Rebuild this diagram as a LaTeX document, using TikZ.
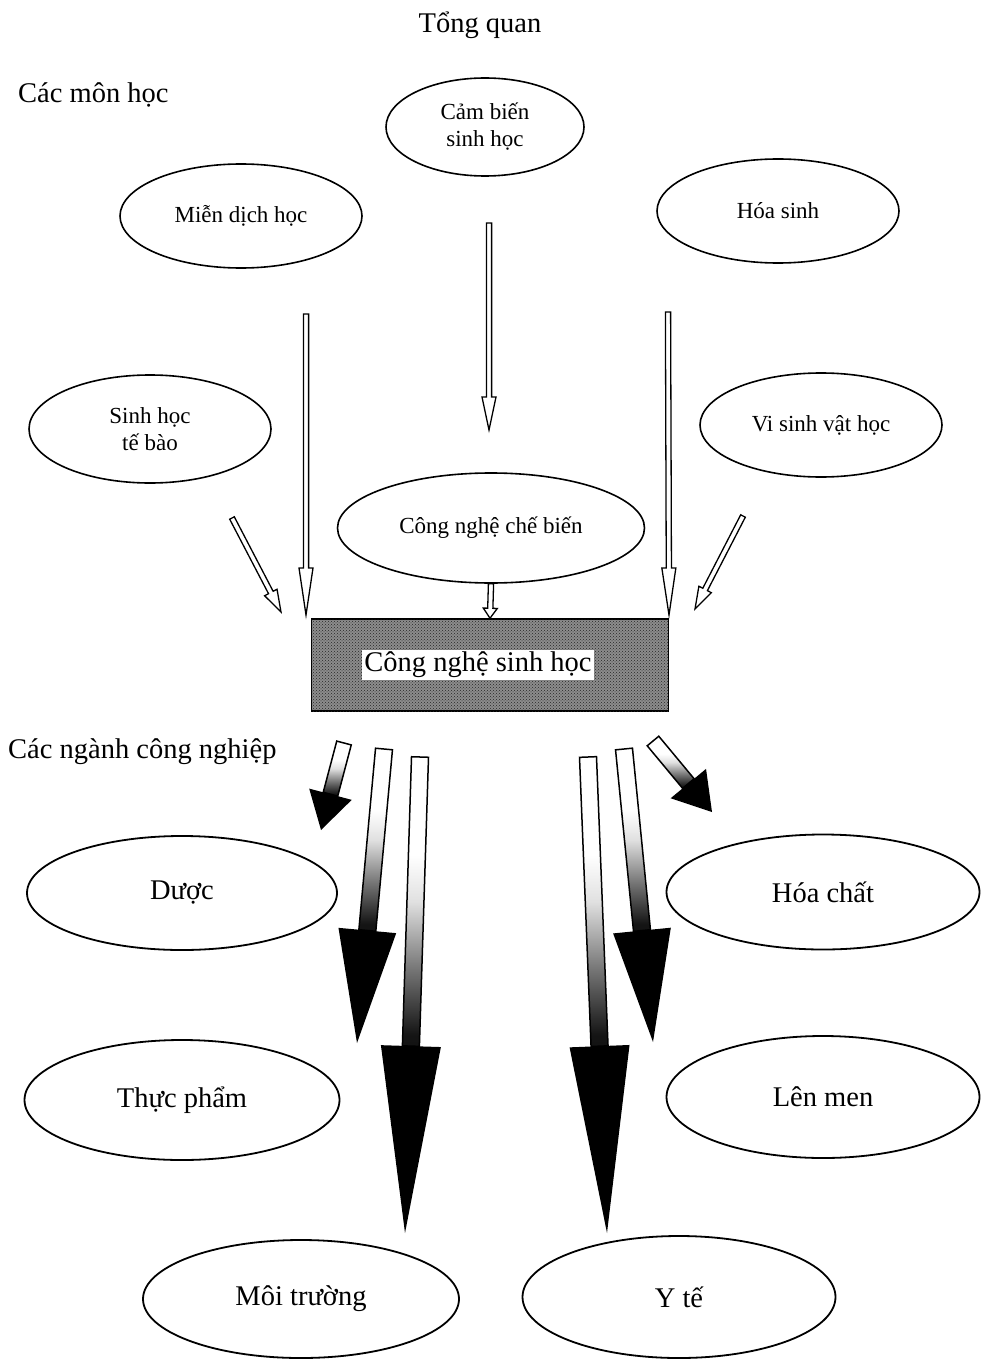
\documentclass[tikz,border=0pt]{standalone}
\usepackage{fontspec}
\setmainfont{Liberation Serif}
\usetikzlibrary{shapes.geometric, calc, patterns}
\pgfdeclareverticalshading{shaftfade}{100bp}{color(0bp)=(black); color(27bp)=(black!92);
  color(38bp)=(black!55); color(50bp)=(black!12); color(58bp)=(white); color(100bp)=(white)}
\tikzset{
  subj/.style  = {draw, ellipse, line width=1.6pt, align=center, inner sep=0pt,
                  font=\fontsize{23}{27}\selectfont, minimum width=242pt, minimum height=104pt},
  indu/.style  = {draw, ellipse, line width=1.8pt, inner sep=0pt,
                  font=\fontsize{28.5}{33}\selectfont, minimum width=313pt, minimum height=118pt},
  ttl/.style   = {font=\fontsize{28.5}{33}\selectfont, inner sep=0pt},
  hol/.style   = {draw, line width=1.3pt, fill=white, line join=miter},
  shaft/.style = {draw, line width=1.5pt, shading=shaftfade},
}
% hollow block arrow: start, tip, head length
\newcommand{\hollowarr}[3]{%
  \coordinate (hb) at ($(#2)!#3!(#1)$);
  \draw[hol] ($(#1)!2.6pt!90:(#2)$) -- ($(hb)!2.6pt!-90:(#1)$) -- ($(hb)!7pt!-90:(#1)$) -- (#2)
    -- ($(hb)!7pt!90:(#1)$) -- ($(hb)!2.6pt!90:(#1)$) -- ($(#1)!2.6pt!-90:(#2)$) -- cycle;
}
% shaded arrow with black head: start, tip, shaft half width, head half width, head length
\newcommand{\fatarr}[5]{%
  \coordinate (hb) at ($(#2)!#5!(#1)$);
  \path[shaft] ($(#1)!#3!90:(#2)$) -- ($(hb)!#3!-90:(#1)$) -- ($(hb)!#3!90:(#1)$)
    -- ($(#1)!#3!-90:(#2)$) -- cycle;
  \fill ($(hb)!#4!-90:(#1)$) -- (#2) -- ($(hb)!#4!90:(#1)$) -- cycle;
}

\begin{document}
\begin{tikzpicture}[x=1pt, y=-1pt]
  \useasboundingbox (0,0) rectangle (981,1364);

  \node[ttl] (title) at (480,25) {Tổng quan};
  \node[ttl, anchor=west] (subjh) at (18,95) {Các môn học};
  \node[ttl, anchor=west] (induh) at (8,752) {Các ngành công nghiệp};

  % subjects
  \node[subj, minimum width=198pt, minimum height=98pt] (bios) at (485,127) {Cảm biến\\sinh học};
  \node[subj] (immu) at (241,216) {Miễn dịch học};
  \node[subj] (bioc) at (778,211) {Hóa sinh};
  \node[subj, minimum height=108pt] (cell) at (150,429) {Sinh học\\tế bào};
  \node[subj] (micr) at (821,425) {Vi sinh vật học};
  \node[subj, minimum width=307pt, minimum height=110pt] (proc) at (491,528) {Công nghệ chế biến};

  % centre
  \node[draw, line width=1.5pt, fill=black!45, minimum width=357pt, minimum height=92pt,
        postaction={pattern=crosshatch dots, pattern color=black!85}] (biot) at (490,665) {};
  \node[ttl, fill=white, inner sep=2.5pt] (biotl) at (478,665) {Công nghệ sinh học};

  % industries
  \node[indu, minimum width=310pt, minimum height=114pt] (phar) at (182,893) {Dược};
  \node[indu, minimum width=315pt, minimum height=120pt] (food) at (182,1100) {Thực phẩm};
  \node[indu, minimum height=115pt] (chem) at (823,892) {Hóa chất};
  \node[indu, minimum height=122pt] (ferm) at (823,1097) {Lên men};
  \node[indu, minimum width=316pt] (envi) at (301,1299) {Môi trường};
  \node[indu, minimum height=122pt] (heal) at (679,1297) {Y tế};

  % arrow ends
  \coordinate (a1s) at (489,223); \coordinate (a1t) at (489,430);
  \coordinate (a2s) at (306,314); \coordinate (a2t) at (306,615);
  \coordinate (a3s) at (668,312); \coordinate (a3t) at (669,615);
  \coordinate (a4s) at (232,518); \coordinate (a4t) at (281,612);
  \coordinate (a5s) at (743,516); \coordinate (a5t) at (695,609);
  \coordinate (l1s) at (344,743); \coordinate (l1t) at (321,830);
  \coordinate (l2s) at (384,749); \coordinate (l2t) at (357,1043);
  \coordinate (l3s) at (420,757); \coordinate (l3t) at (405,1233);
  \coordinate (r1s) at (653,741); \coordinate (r1t) at (712,812);
  \coordinate (r2s) at (624,749); \coordinate (r2t) at (653,1042);
  \coordinate (r3s) at (588,757); \coordinate (r3t) at (607,1233);

  \hollowarr{a1s}{a1t}{33pt}
  \hollowarr{a2s}{a2t}{47pt}
  \hollowarr{a3s}{a3t}{47pt}
  \hollowarr{a4s}{a4t}{22pt}
  \hollowarr{a5s}{a5t}{22pt}
  \hollowarr{proc.south}{biot.north}{10pt}

  \fatarr{l1s}{l1t}{7.5pt}{22pt}{37pt}
  \fatarr{l2s}{l2t}{8.5pt}{29pt}{113pt}
  \fatarr{l3s}{l3t}{8.5pt}{30pt}{187pt}
  \fatarr{r1s}{r1t}{7.5pt}{23pt}{37pt}
  \fatarr{r2s}{r2t}{8.5pt}{29pt}{112pt}
  \fatarr{r3s}{r3t}{8.5pt}{30pt}{187pt}
\end{tikzpicture}
\end{document}
